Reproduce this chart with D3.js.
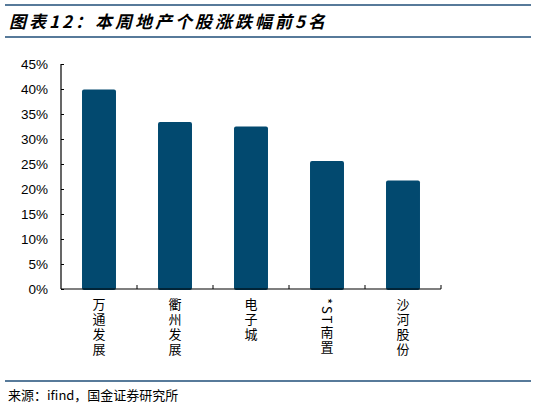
<!DOCTYPE html>
<html>
<head>
<meta charset="utf-8">
<script src="https://cdn.jsdelivr.net/npm/d3@7"></script>
<style>
  body { margin: 0; background: #fff; }
</style>
</head>
<body>
<script>
// stocks and weekly change (fraction)
var stocks = ['万通发展', '衢州发展', '电子城', '*ST南置', '沙河股份'];
var changes = [0.399, 0.334, 0.325, 0.256, 0.217];
var yTicks = [0, 0.05, 0.10, 0.15, 0.20, 0.25, 0.30, 0.35, 0.40, 0.45];

var titleText = '图表12：本周地产个股涨跌幅前5名';
var sourceText = '来源：ifind，国金证券研究所';

var W = 541, H = 409;
var lineColor = '#1f4e79';
var barColor = '#02496f';
var cjk = '"Noto Sans CJK SC", "Noto Sans", sans-serif';

var svg = d3.select('body')
  .append('svg')
  .attr('width', W)
  .attr('height', H);

// header
svg.append('line').attr('x1', 5).attr('x2', 531).attr('y1', 5).attr('y2', 5)
  .attr('stroke', lineColor).attr('stroke-width', 1.6);
svg.append('line').attr('x1', 5).attr('x2', 531).attr('y1', 37).attr('y2', 37)
  .attr('stroke', lineColor).attr('stroke-width', 1.6);
svg.append('text')
  .attr('x', 9).attr('y', 28)
  .attr('font-family', cjk)
  .attr('font-size', 17)
  .attr('font-weight', 'bold')
  .attr('font-style', 'italic')
  .attr('letter-spacing', 3)
  .attr('fill', '#000')
  .text(titleText);

// footer
svg.append('line').attr('x1', 5).attr('x2', 531).attr('y1', 381).attr('y2', 381)
  .attr('stroke', lineColor).attr('stroke-width', 1.6);
svg.append('text')
  .attr('x', 8).attr('y', 400)
  .attr('font-family', cjk)
  .attr('font-size', 13)
  .attr('fill', '#000')
  .text(sourceText);

// plot
var x = d3.scaleBand().domain(stocks).range([61, 441]).paddingInner(0.553).paddingOuter(0.2765);
var y = d3.scaleLinear().domain([0, 0.45]).range([289, 64]);

svg.append('g').selectAll('rect.bar')
  .data(changes)
  .enter()
  .append('rect')
  .attr('class', 'bar')
  .attr('x', function(d, i) { return x(stocks[i]); })
  .attr('width', x.bandwidth())
  .attr('y', function(d) { return y(d); })
  .attr('height', function(d) { return y(0) - y(d) + 1; })
  .attr('rx', 2)
  .attr('fill', barColor);

// y axis
var yAxis = d3.axisLeft(y)
  .tickValues(yTicks)
  .tickSize(-3)
  .tickPadding(13)
  .tickFormat(d3.format('.0%'));
var ya = svg.append('g').attr('transform', 'translate(61,0)').call(yAxis);
ya.select('.domain').attr('d', 'M0,64V289').attr('stroke', '#000').attr('stroke-width', 1.2);
ya.selectAll('.tick line').attr('stroke', '#000');
ya.selectAll('.tick text')
  .attr('font-family', 'Arial, "Liberation Sans", sans-serif')
  .attr('font-size', 13.5)
  .attr('fill', '#000');

// x axis line and ticks at band edges
var step = x.step();
var edges = stocks.map(function(s) { return x(s) + x.bandwidth() / 2 + step / 2; });
svg.append('line').attr('x1', 61).attr('x2', 441).attr('y1', 289).attr('y2', 289)
  .attr('stroke', '#000').attr('stroke-width', 1.2);
svg.selectAll('line.xtick')
  .data(edges)
  .enter()
  .append('line')
  .attr('class', 'xtick')
  .attr('x1', function(d) { return d; })
  .attr('x2', function(d) { return d; })
  .attr('y1', 289).attr('y2', 285)
  .attr('stroke', '#000');

// vertical category labels
svg.selectAll('text.xlabel')
  .data(stocks)
  .enter()
  .append('text')
  .attr('class', 'xlabel')
  .attr('x', function(d) { return x(d) + x.bandwidth() / 2; })
  .attr('y', 298)
  .style('writing-mode', 'vertical-rl')
  .attr('font-family', cjk)
  .attr('font-size', 13)
  .attr('letter-spacing', 2)
  .attr('fill', '#000')
  .text(function(d) { return d; });
</script>
</body>
</html>
